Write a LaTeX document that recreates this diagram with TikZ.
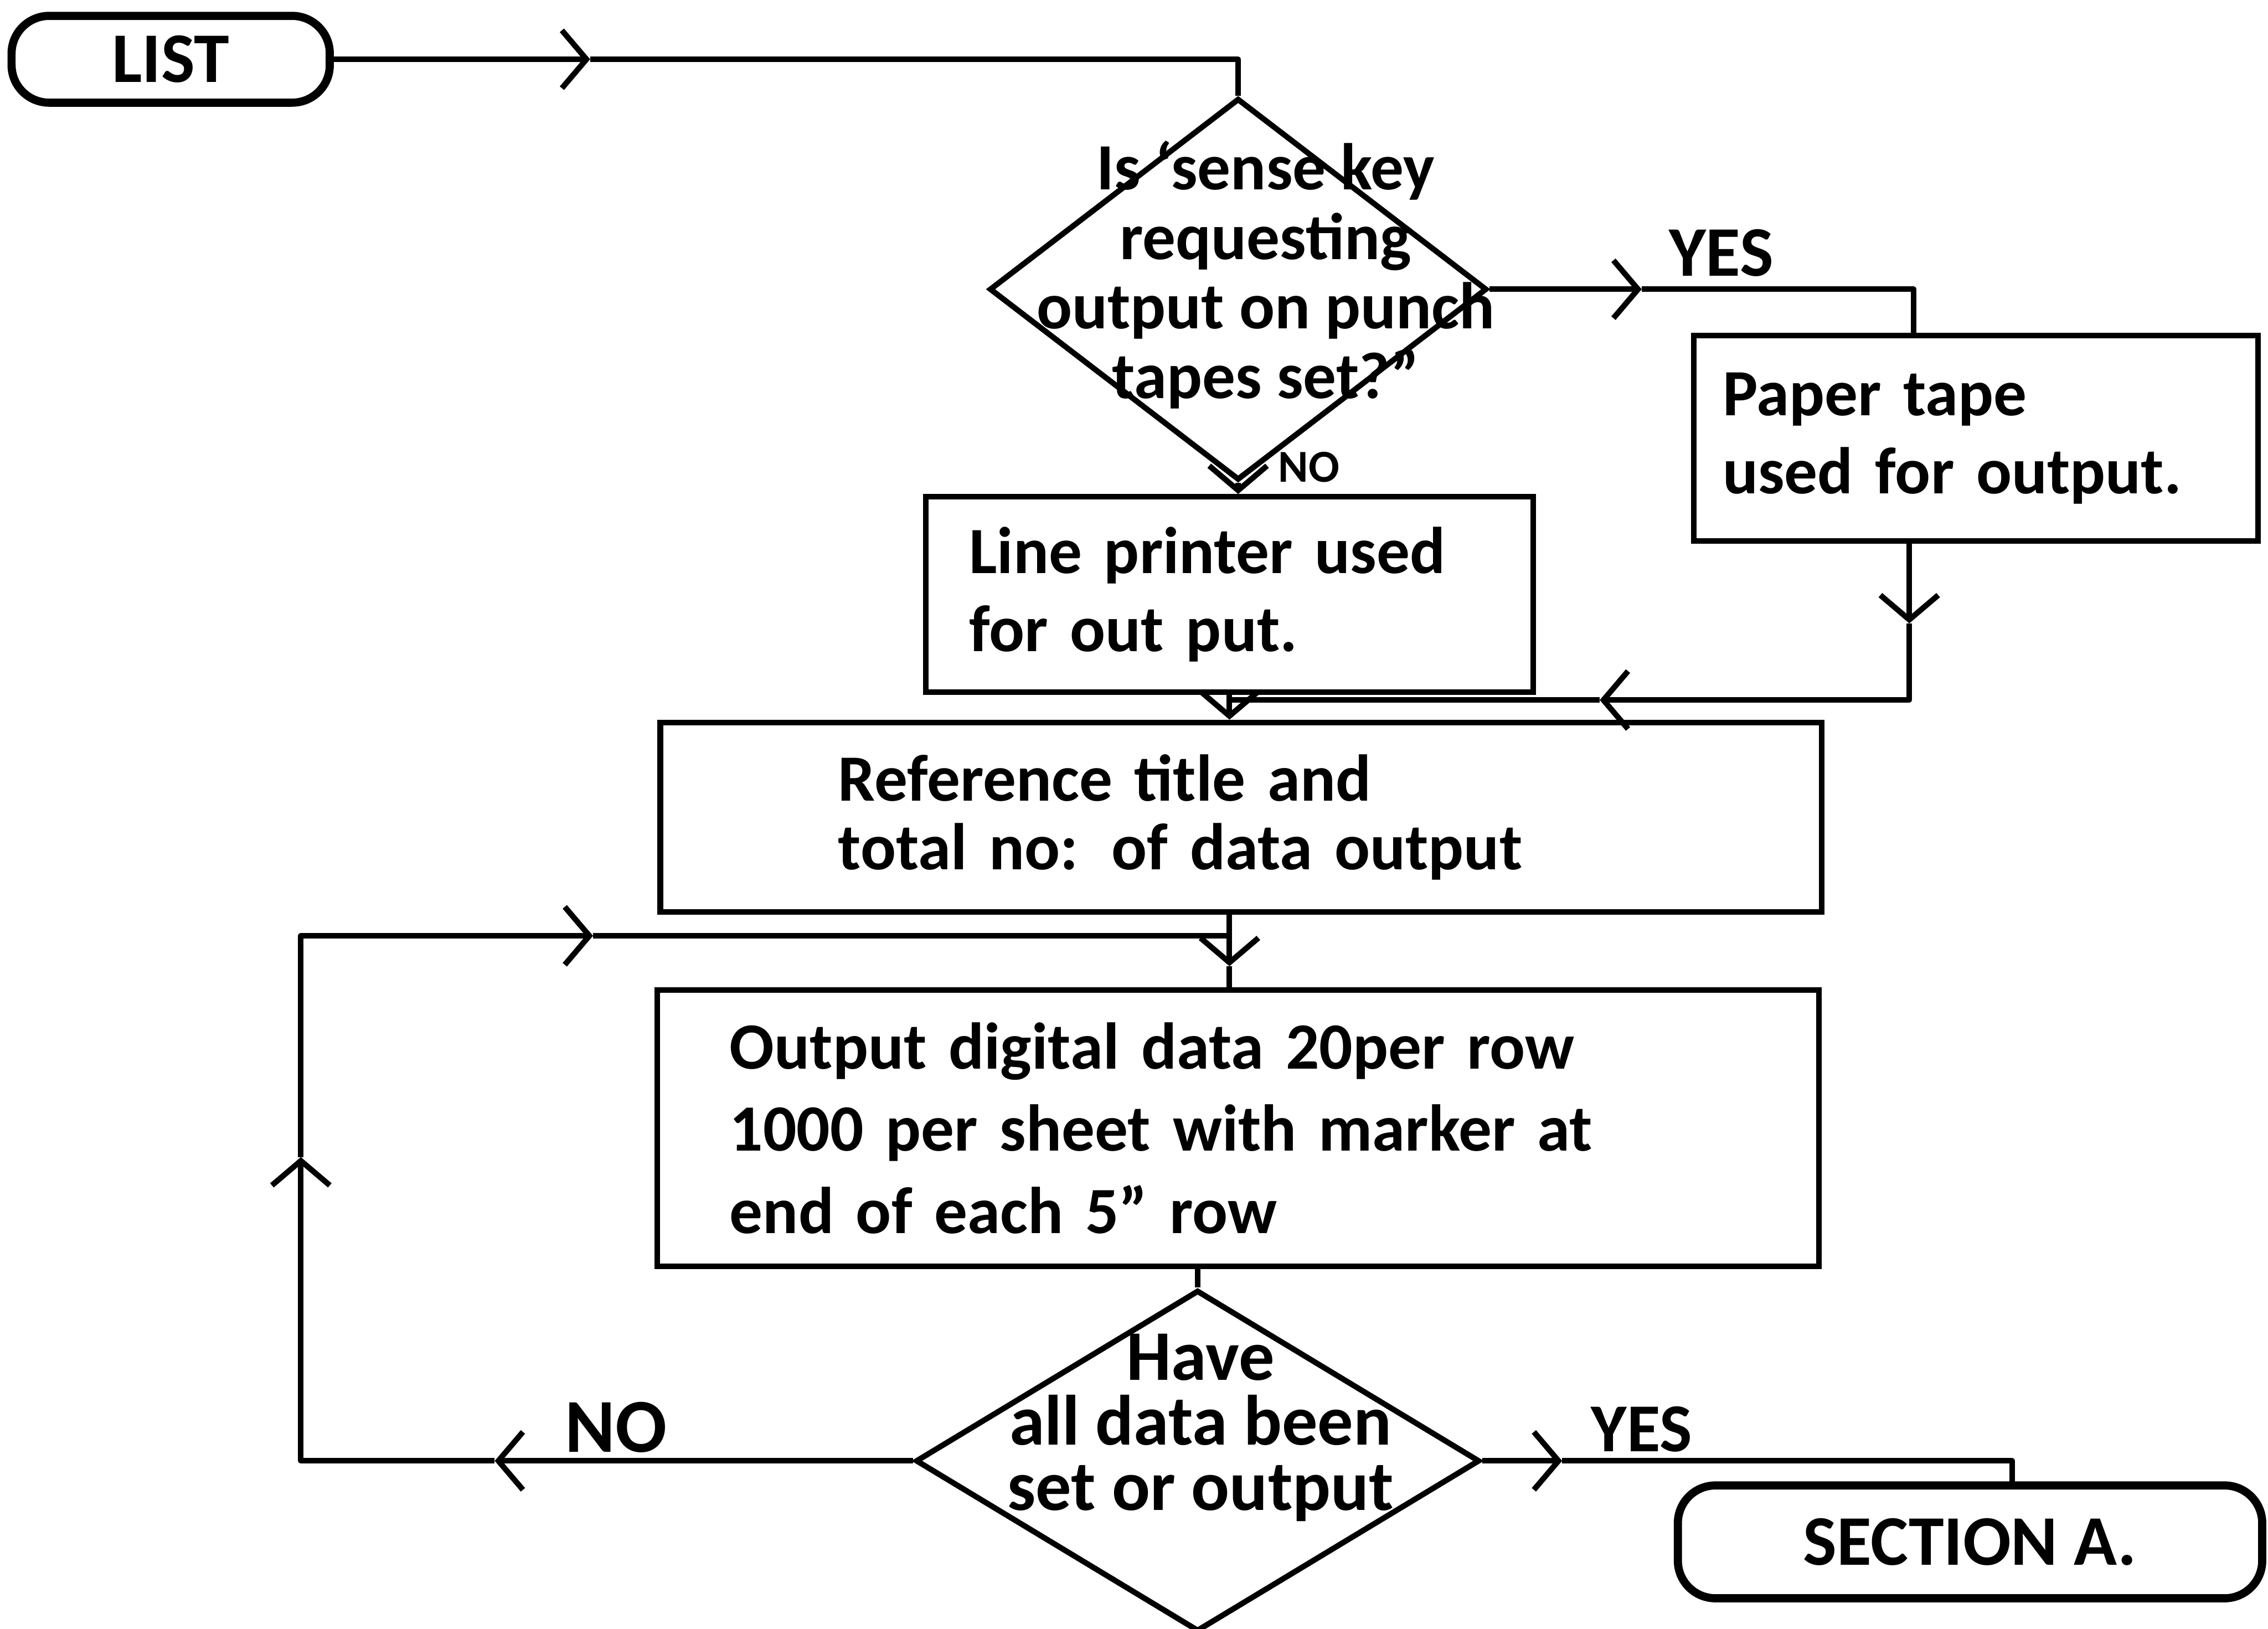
\documentclass[tikz,border=0pt]{standalone}
\usepackage{fontspec}
\setmainfont{Carlito}
\usetikzlibrary{arrows.meta,shapes.geometric}
\tikzset{wire/.style={draw=black,line width=1.1pt,line join=round},
         wirearrow/.style={wire,-{Straight Barb[length=1.7mm,width=4mm]}},
         box/.style={draw=black,line width=1.1pt,rectangle,align=left,inner ysep=0pt},
         terminal/.style={draw=black,line width=1.6pt,rectangle,rounded corners=2.6mm,inner sep=0pt},
         decision/.style={draw=black,line width=1.1pt,diamond,inner sep=0pt},
         tag/.style={inner sep=0pt}}

\begin{document}
\begin{tikzpicture}[x=0.1mm,y=-0.1mm,font=\bfseries\fontsize{13}{15.4}\selectfont]
  \useasboundingbox (0,0) rectangle (1568,1126);
  % start and end
  \node[terminal,minimum width=22mm,minimum height=6mm,font=\bfseries\fontsize{14}{15}\selectfont] (list) at (118,41) {LIST};
  \node[terminal,minimum width=40.4mm,minimum height=7.8mm,font=\bfseries\fontsize{14}{15}\selectfont] (secta) at (1362,1066) {SECTION A.};
  % first test
  \node[decision,minimum width=34.4mm,minimum height=26.4mm] (ask1) at (856,200) {};
  \node[align=center,font=\bfseries\fontsize{13}{13.7}\selectfont] (ask1txt) at (875,190)
    {Is `sense key\\requesting\\output on punch\\tapes set?''};
  \node[box,minimum height=13.5mm,text width=36mm,inner xsep=3mm] (printer) at (850,411)
    {Line printer used\\for out put.};
  \node[box,minimum height=14.2mm,text width=35mm,inner xsep=2mm] (paper) at (1366,303)
    {Paper tape\\used for output.};
  \node[box,minimum height=13.1mm,text width=55.7mm,inner xsep=12.3mm,
        font=\bfseries\fontsize{13}{13.6}\selectfont] (ref) at (858,565)
    {Reference title and\\total no: of data output};
  \node[box,minimum height=19.1mm,text width=70.3mm,inner xsep=5mm,
        font=\bfseries\fontsize{13}{16.2}\selectfont] (out) at (856,780)
    {Output digital data 20per row\\1000 per sheet  with marker at\\end of each 5" row};
  % second test
  \node[decision,minimum width=39mm,minimum height=23.6mm] (ask2) at (828,1010) {};
  \node[align=center,font=\bfseries\fontsize{14}{12.8}\selectfont] (ask2txt) at (830,987)
    {Have\\all data been\\set or output};
  % branch labels
  \node[tag,font=\bfseries\fontsize{14}{15}\selectfont] (yes1) at (1190,175) {YES};
  \node[tag,font=\bfseries\fontsize{9}{10}\selectfont] (no1) at (905,323) {NO};
  \node[tag,font=\bfseries\fontsize{15}{15}\selectfont] (no2) at (426,987) {NO};
  \node[tag,font=\bfseries\fontsize{13.5}{15}\selectfont] (yes2) at (1135,988) {YES};

  % bends and arrow points
  \coordinate (e1) at (408,41);
  \coordinate (y1) at (1135,200);
  \coordinate (pin) at (1323,232);
  \coordinate (p1) at (1320,431);
  \coordinate (p2) at (1320,484);
  \coordinate (p3) at (1106,484);
  \coordinate (pj) at (850,484);
  \coordinate (r1) at (850,668);
  \coordinate (rj) at (850,647);
  \coordinate (n1) at (342,1010);
  \coordinate (n2) at (208,1010);
  \coordinate (n3) at (208,800);
  \coordinate (n4) at (208,647);
  \coordinate (n5) at (410,647);
  \coordinate (s1) at (1080,1010);
  \coordinate (sin) at (1391,1027);

  \draw[wirearrow] (list.east) -- (e1);
  \draw[wire] (e1) -| (ask1.north);
  \draw[wirearrow] (ask1.east) -- (y1);
  \draw[wire] (y1) -| (pin);
  \draw[wirearrow] (ask1.south) -- (ask1.south |- printer.north);
  \draw[wirearrow] (paper.south -| p1) -- (p1);
  \draw[wirearrow] (p1) -- (p2) -- (p3);
  \draw[wire] (p3) -- (pj);
  \draw[wirearrow] (printer.south) -- (printer.south |- ref.north);
  \draw[wirearrow] (ref.south -| r1) -- (r1);
  \draw[wire] (r1) -- (r1 |- out.north);
  \draw[wire] (out.south -| ask2.north) -- (ask2.north);
  \draw[wirearrow] (ask2.west) -- (n1);
  \draw[wirearrow] (n1) -- (n2) -- (n3);
  \draw[wirearrow] (n3) -- (n4) -- (n5);
  \draw[wire] (n5) -- (rj);
  \draw[wirearrow] (ask2.east) -- (s1);
  \draw[wire] (s1) -| (sin);
\end{tikzpicture}
\end{document}
